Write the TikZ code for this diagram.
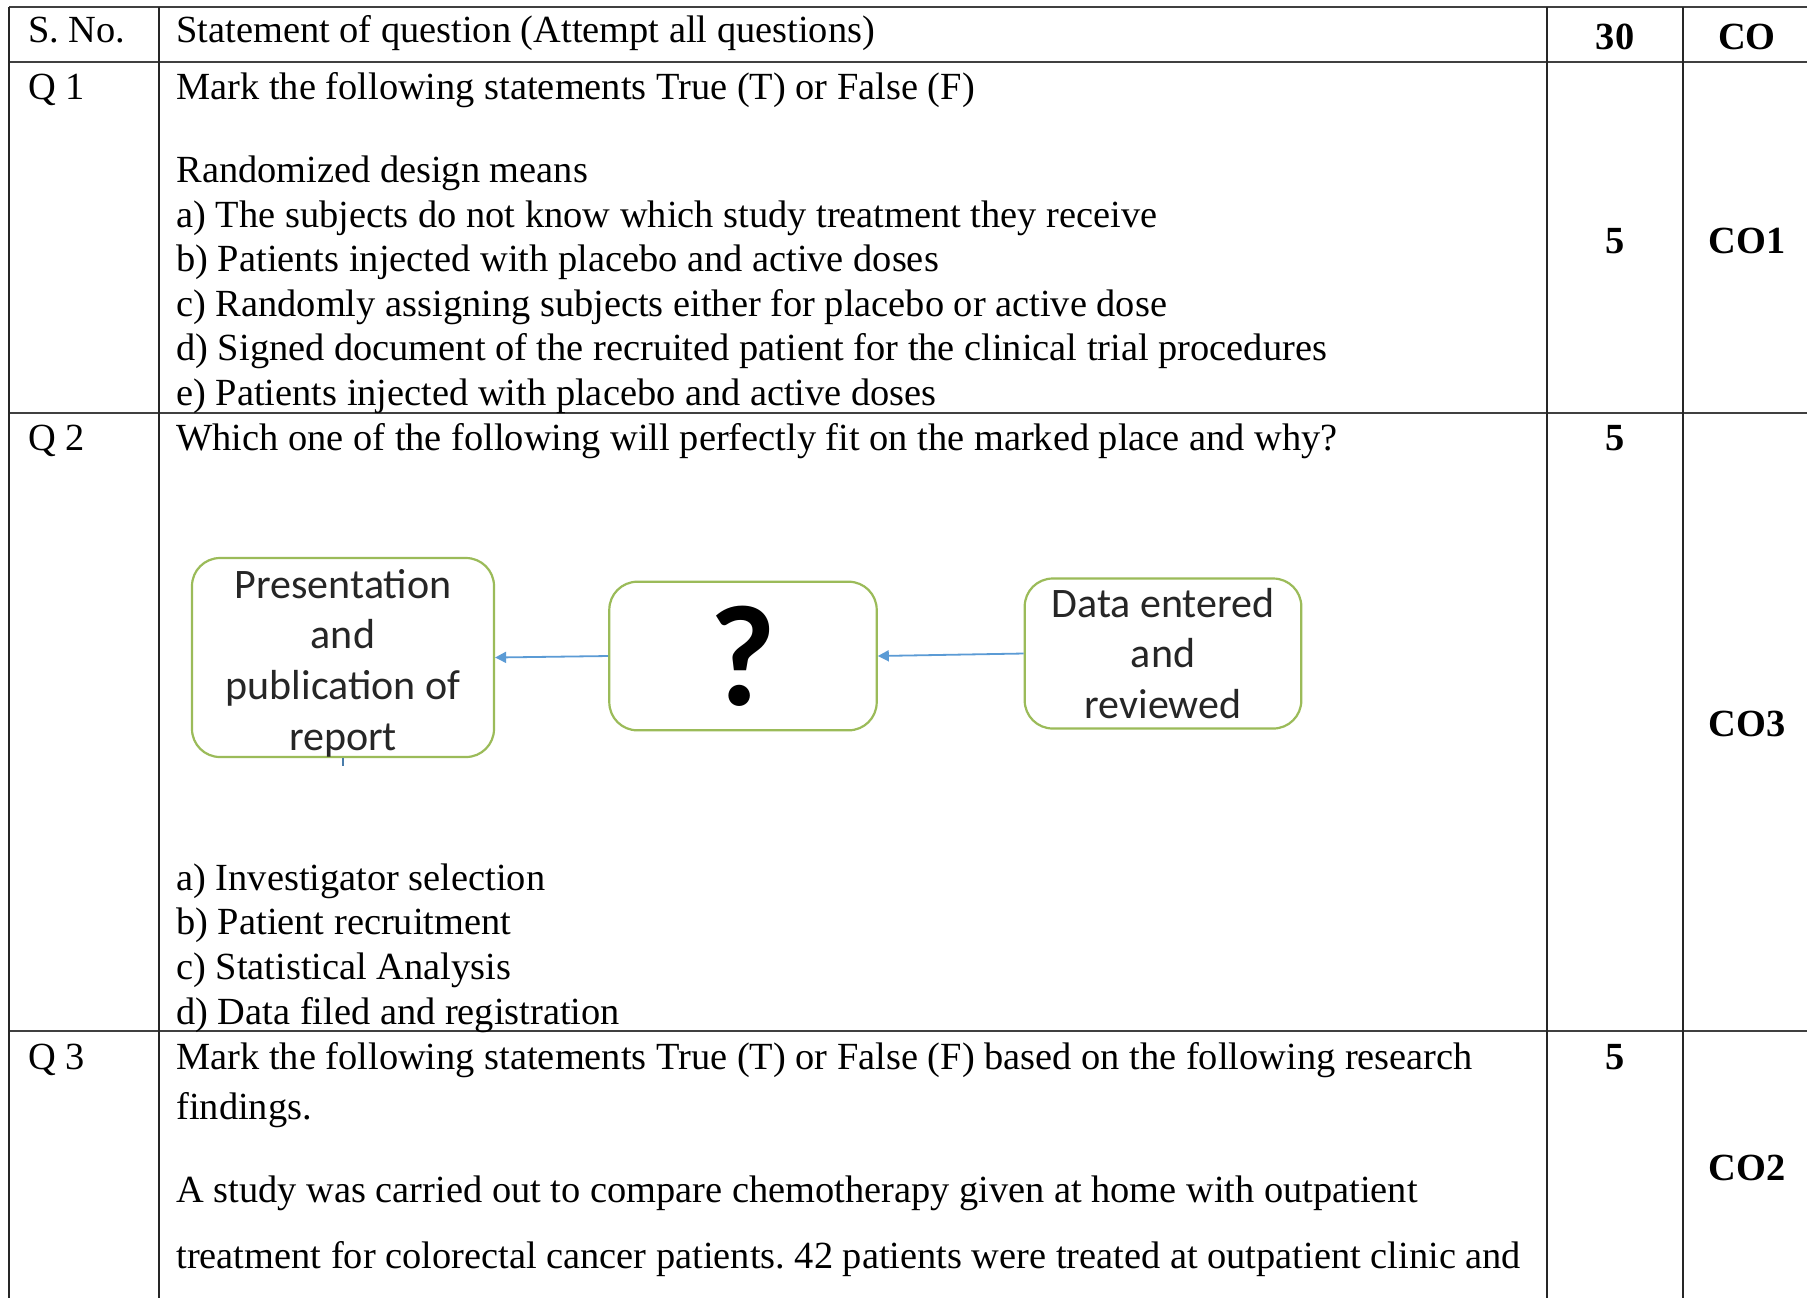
\documentclass[tikz,border=0pt]{standalone}
\usepackage{fontspec}
\setmainfont{Liberation Serif}
\newfontfamily\calib{Carlito}
\usetikzlibrary{arrows.meta}
\definecolor{boxgreen}{RGB}{155,187,89}
\definecolor{arrowblue}{RGB}{91,155,213}
\frenchspacing
\begin{document}
\begin{tikzpicture}[x=0.5pt,y={(0pt,-0.5pt)},
  txt/.style={anchor=mid west, inner sep=0pt, yshift=-4.5pt, font=\fontsize{19.2pt}{22.2pt}\selectfont},
  num/.style={anchor=mid, inner sep=0pt, yshift=-4.5pt, font=\fontsize{19.2pt}{22.2pt}\selectfont\bfseries},
  hrule/.style={draw=black!75, line width=1.2pt},
  vrule/.style={draw=black!85, line width=0.8pt},
  flowbox/.style={draw=boxgreen, line width=1.1pt, rounded corners=14pt, fill=white,
    align=center, inner sep=0pt, text=black!85,
    font=\calib\fontsize{21pt}{25.3pt}\selectfont},
  flowarrow/.style={draw=arrowblue, line width=0.9pt, -{Triangle[length=5.5pt,width=5.5pt]}}
]
\useasboundingbox[fill=white] (0,0) rectangle (1807,1298);

% table rules
\draw[hrule] (9,7) -- (1807,7);
\draw[hrule] (9,62) -- (1807,62);
\draw[hrule] (9,413) -- (1807,413);
\draw[hrule] (9,1031) -- (1807,1031);
\draw[vrule] (9,7) -- (9,1298);
\draw[vrule] (159,7) -- (159,1298);
\draw[vrule] (1547,7) -- (1547,1298);
\draw[vrule] (1683,7) -- (1683,1298);

% header
\node[txt] (sno) at (28,29) {S. No.};
\node[txt] (hdr) at (176,29) {Statement of question (Attempt all questions)};
\node[num] (m30) at (1615,36) {30};
\node[num] (co) at (1747,36) {CO};

% Q1
\node[txt] (q1) at (28,86) {Q 1};
\node[txt] (q1l1) at (176,86) {Mark the following statements True (T) or False (F)};
\node[txt] (q1l2) at (176,169) {Randomized design means};
\node[txt] (q1a) at (176,214) {a) The subjects do not know which study treatment they receive};
\node[txt] (q1b) at (176,258) {b) Patients injected with placebo and active doses};
\node[txt] (q1c) at (176,303) {c) Randomly assigning subjects either for placebo or active dose};
\node[txt] (q1d) at (176,347) {d) Signed document of the recruited patient for the clinical trial procedures};
\node[txt] (q1e) at (176,392) {e) Patients injected with placebo and active doses};
\node[num] (m1) at (1615,240) {5};
\node[num] (co1) at (1747,240) {CO1};

% Q2
\node[txt] (q2) at (28,437) {Q 2};
\node[txt] (q2l1) at (176,437) {Which one of the following will perfectly fit on the marked place and why?};
\node[txt] (q2a) at (176,877) {a) Investigator selection};
\node[txt] (q2b) at (176,921) {b) Patient recruitment};
\node[txt] (q2c) at (176,966) {c) Statistical Analysis};
\node[txt] (q2d) at (176,1011) {d) Data filed and registration};
\node[num] (m2) at (1615,437) {5};
\node[num] (co3) at (1747,723) {CO3};

% diagram
\node[flowbox, minimum width=151pt, minimum height=99.5pt] (b1) at (343,657.5)
  {\rule{0pt}{20pt}Presentation\\and\\publication of\\report};
\node[flowbox, minimum width=133.7pt, minimum height=74.3pt,
  font=\calib\bfseries\fontsize{72pt}{72pt}\selectfont, text=black] (b2) at (743,656) {?};
\node[flowbox, minimum width=138.3pt, minimum height=75pt] (b3) at (1163,653.5)
  {Data entered\\and\\reviewed};
\draw[flowarrow] (b2.west) -- (b1.east);
\draw[flowarrow] (b3.west) -- (b2.east);
\draw[draw=arrowblue!80!black, line width=0.6pt] (b1.south) -- ++(0,8);

% Q3
\node[txt] (q3) at (28,1056) {Q 3};
\node[txt] (q3l1) at (176,1056) {Mark the following statements True (T) or False (F) based on the following research};
\node[txt] (q3l2) at (176,1106) {findings.};
\node[txt] (q3l3) at (176,1189) {A study was carried out to compare chemotherapy given at home with outpatient};
\node[txt] (q3l4) at (176,1255) {treatment for colorectal cancer patients. 42 patients were treated at outpatient clinic and};
\node[num] (m3) at (1615,1056) {5};
\node[num] (co2) at (1747,1167) {CO2};
\end{tikzpicture}
\end{document}
